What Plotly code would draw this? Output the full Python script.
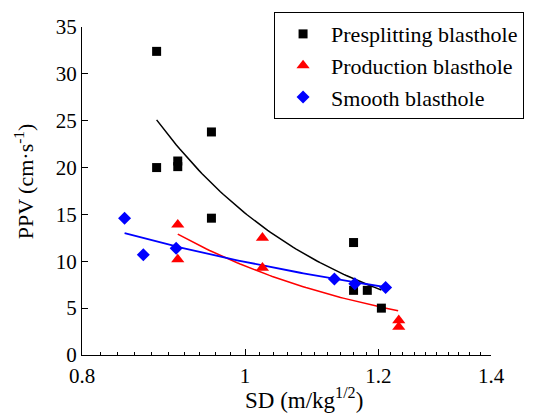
import numpy as np
import plotly.graph_objects as go

# ---- data ----
pre_sd = [0.886, 0.886, 0.912, 0.912, 0.955, 0.955, 1.160, 1.160, 1.182, 1.205]
pre_ppv = [32.4, 20.0, 20.7, 20.1, 23.8, 14.6, 12.0, 6.9, 6.9, 5.0]

prod_sd = [0.912, 0.912, 1.024, 1.024, 1.234, 1.234]
prod_ppv = [13.9, 10.2, 12.5, 9.3, 3.7, 3.0]

smooth_sd = [0.848, 0.870, 0.910, 1.130, 1.162, 1.212]
smooth_ppv = [14.6, 10.7, 11.4, 8.1, 7.6, 7.2]

# power-law fits PPV = K * SD^(-a)
pre_fit = dict(K=15.13, a=4.18, x0=0.886, x1=1.205)
prod_fit = dict(K=9.49, a=3.33, x0=0.912, x1=1.233)
smooth_fit = dict(K=9.93, a=1.636, x0=0.848, x1=1.212)

x_tickvals = [0.8, 1.0, 1.2, 1.4]
x_ticktext = ["0.8", "1", "1.2", "1.4"]
y_tickvals = [0, 5, 10, 15, 20, 25, 30, 35]

FONT = "Liberation Serif"

fig = go.Figure()


def fit_curve(p):
    xs = np.linspace(p["x0"], p["x1"], 80)
    return xs, p["K"] * xs ** (-p["a"])


for p, col, w in [(pre_fit, "black", 1.5), (prod_fit, "red", 1.5), (smooth_fit, "blue", 1.8)]:
    xs, ys = fit_curve(p)
    fig.add_trace(go.Scatter(x=xs, y=ys, mode="lines", line=dict(color=col, width=w),
                             showlegend=False, hoverinfo="skip"))

fig.add_trace(go.Scatter(x=pre_sd, y=pre_ppv, mode="markers", name="Presplitting blasthole",
                         marker=dict(symbol="square", size=9, color="black")))
fig.add_trace(go.Scatter(x=prod_sd, y=prod_ppv, mode="markers", name="Production blasthole",
                         marker=dict(symbol="triangle-up", size=11.5, color="red")))
fig.add_trace(go.Scatter(x=smooth_sd, y=smooth_ppv, mode="markers", name="Smooth blasthole",
                         marker=dict(symbol="diamond", size=10, color="blue")))

minor_vals = [round(0.8 + 0.02 * i, 2) for i in range(1, 30)]
minor_vals = [v for v in minor_vals if v not in (1.0, 1.2)]

fig.update_layout(
    width=536, height=415,
    margin=dict(l=82, r=43, t=25, b=60),
    paper_bgcolor="white", plot_bgcolor="white",
    font=dict(family=FONT, size=21, color="black"),
    showlegend=True,
    legend=dict(x=(275 - 82) / 411, y=(355 - 10) / 330, xanchor="left", yanchor="top",
                bordercolor="black", borderwidth=1, bgcolor="white",
                itemwidth=46,
                font=dict(family=FONT, size=22), tracegroupgap=0),
    xaxis=dict(type="log", range=[np.log10(0.8), np.log10(1.4)],
               tickvals=x_tickvals, ticktext=x_ticktext,
               showline=True, linecolor="black", linewidth=1.3,
               ticks="inside", ticklen=6, tickwidth=1.2, tickcolor="black",
               ticklabelstandoff=2,
               showgrid=False, zeroline=False,
               minor=dict(tickvals=minor_vals, ticks="inside", ticklen=3,
                          tickwidth=1, tickcolor="black", showgrid=False),
               tickfont=dict(family=FONT, size=21)),
    yaxis=dict(range=[0, 35], tickvals=y_tickvals,
               showline=True, linecolor="black", linewidth=1.3,
               ticks="inside", ticklen=6, tickwidth=1.2, tickcolor="black",
               showgrid=False, zeroline=False,
               tickfont=dict(family=FONT, size=21)),
    annotations=[
        dict(text="SD (m/kg<sup>1/2</sup>)", xref="paper", yref="paper",
             x=(305 - 82) / 411, y=-(399 - 355) / 330, xanchor="center", yanchor="middle",
             showarrow=False, font=dict(family=FONT, size=23)),
        dict(text="PPV (cm·s<sup>-1</sup>)", xref="paper", yref="paper",
             x=-(82 - 24) / 411, y=(355 - 180) / 330, xanchor="center", yanchor="middle",
             textangle=-90, showarrow=False, font=dict(family=FONT, size=22)),
    ],
)

fig.write_html("out.html")
